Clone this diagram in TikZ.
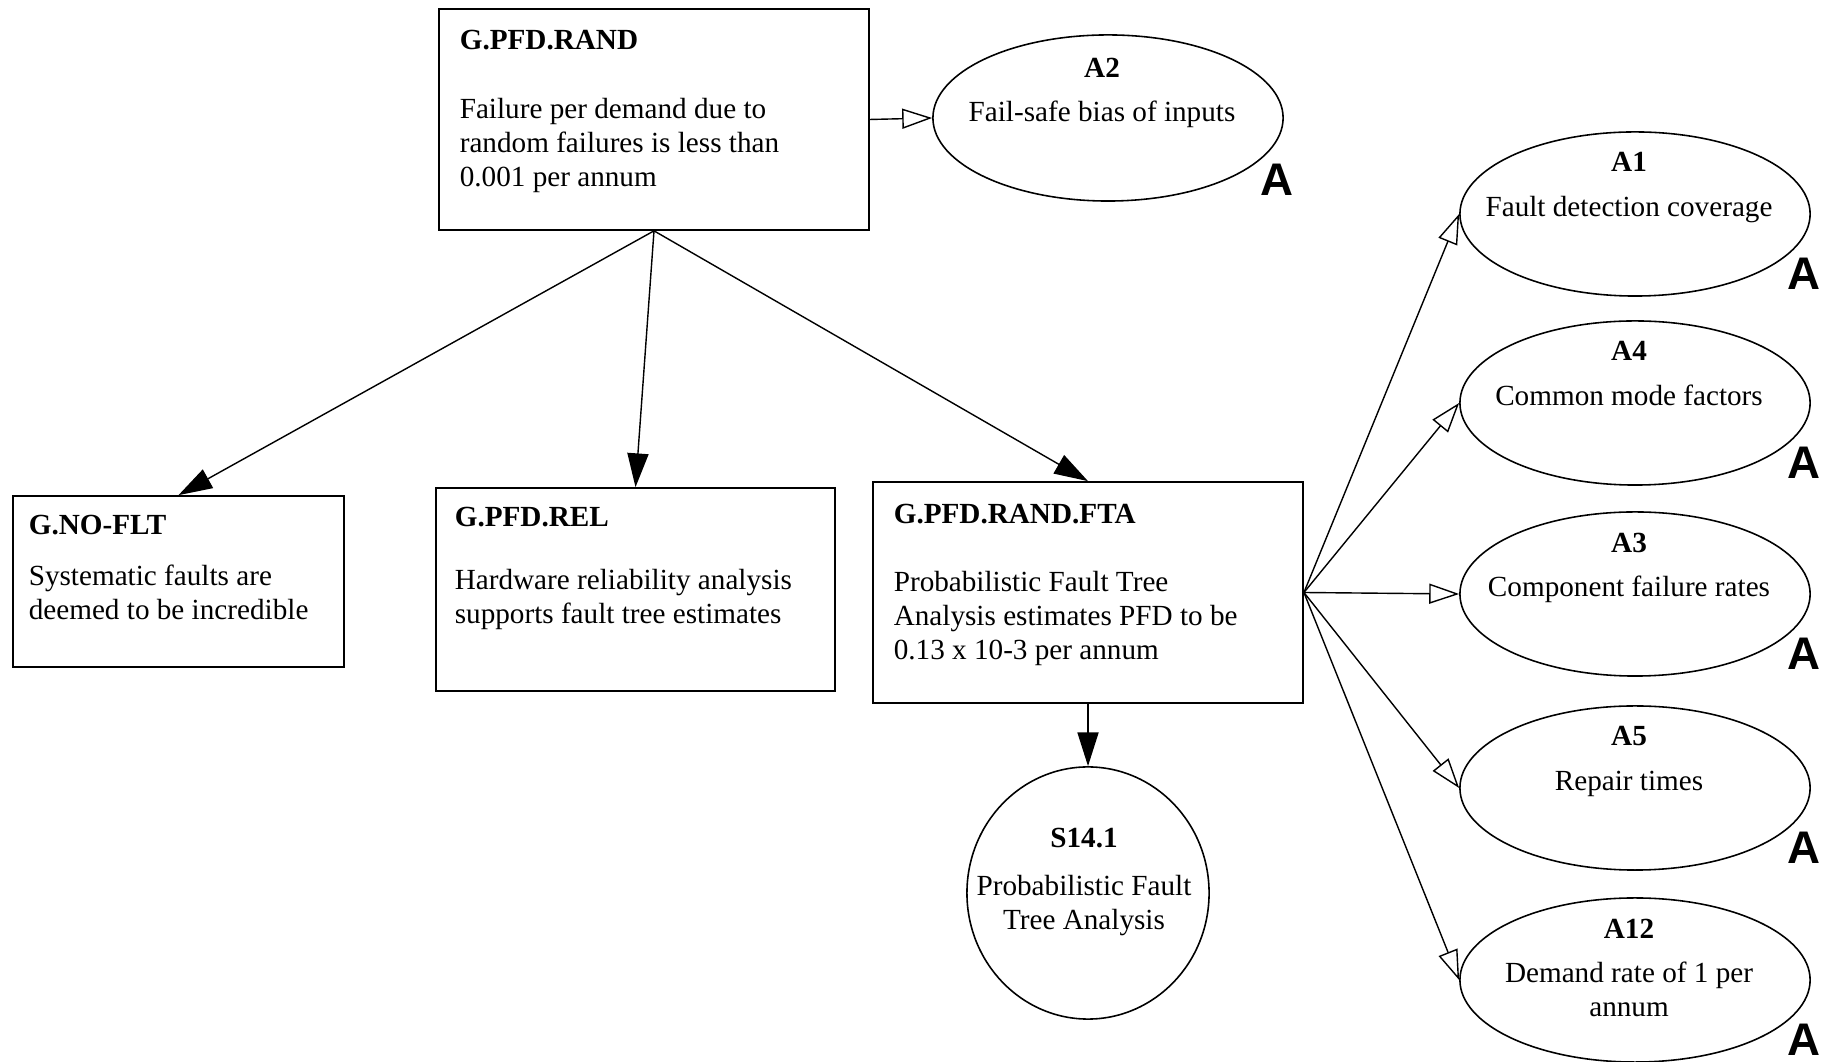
\documentclass[tikz,border=0pt]{standalone}
\usepackage{fontspec}
\setmainfont{Liberation Serif}
\newfontfamily\tagfont{Liberation Sans}
\usetikzlibrary{calc, positioning, shapes.geometric, arrows.meta}

\tikzset{
  goalbox/.style={draw, rectangle, line width=0.45pt, inner sep=0pt},
  goaltext/.style={anchor=north west, inner sep=0pt, align=left, font=\fontsize{8.3}{9.7}\selectfont},
  asmp/.style={draw, ellipse, line width=0.45pt, minimum width=3.50cm, minimum height=1.64cm, inner sep=0pt},
  asmptext/.style={anchor=north, inner sep=0pt, align=center, font=\fontsize{8.3}{9.7}\selectfont},
  atag/.style={inner sep=0pt, font=\tagfont\bfseries\fontsize{13}{13}\selectfont},
  solidarr/.style={-{Triangle[length=9.6pt, width=6pt]}, line width=0.4pt},
  openarr/.style={-{Triangle[open, fill=white, length=8.5pt, width=5.7pt]}, line width=0.4pt},
}

\begin{document}
\begin{tikzpicture}[x=0.01cm, y=0.01cm]
  \useasboundingbox (0,0) rectangle (1831,1061);

  % goals
  \node[goalbox, minimum width=4.30cm, minimum height=2.21cm] (rand) at (654,941.5) {};
  \node[goaltext] (randtxt) at ($(rand.north west)+(21,-21)$) {%
    \textbf{G.PFD.RAND}\\[10pt]
    Failure per demand due to\\
    random failures is less than\\
    0.001 per annum};

  \node[goalbox, minimum width=3.31cm, minimum height=1.71cm] (noflt) at (178.5,479.5) {};
  \node[goaltext] (noflttxt) at ($(noflt.north west)+(16,-19)$) {%
    \textbf{G.NO-FLT}\\[5pt]
    Systematic faults are\\
    deemed to be incredible};

  \node[goalbox, minimum width=3.99cm, minimum height=2.03cm] (rel) at (635.5,471.5) {};
  \node[goaltext] (reltxt) at ($(rel.north west)+(19,-19)$) {%
    \textbf{G.PFD.REL}\\[8.3pt]
    Hardware reliability analysis\\
    supports fault tree estimates};

  \node[goalbox, minimum width=4.30cm, minimum height=2.21cm] (fta) at (1088,468.5) {};
  \node[goaltext] (ftatxt) at ($(fta.north west)+(21,-22)$) {%
    \textbf{G.PFD.RAND.FTA}\\[9.7pt]
    Probabilistic Fault Tree\\
    Analysis estimates PFD to be\\
    0.13 x 10-3 per annum};

  % solution
  \node[draw, ellipse, line width=0.45pt, minimum width=2.42cm, minimum height=2.52cm, inner sep=0pt] (s141) at (1088,168) {};
  \node[asmptext] (s141txt) at ($(s141.center)+(-4,66)$) {%
    \textbf{S14.1}\\[4pt]
    Probabilistic Fault\\
    Tree Analysis};

  % assumptions
  \node[asmp, minimum height=1.66cm] (a2) at (1108,943) {};
  \node[asmptext] (a2txt) at ($(a2.center)+(-6,61)$) {\textbf{A2}\\[3pt]Fail-safe bias of inputs};
  \node[atag] (a2tag) at ($(a2.center)+(169,-62)$) {A};

  \foreach \nm/\yy/\ttl/\txt in {a1/847/A1/Fault detection coverage,
                                 a4/658/A4/Common mode factors,
                                 a3/467/A3/Component failure rates,
                                 a5/273/A5/Repair times,
                                 a12/81/A12/{Demand rate of 1 per\\annum}} {
    \node[asmp] (\nm) at (1635,\yy) {};
    \node[asmptext] (\nm txt) at ($(\nm.center)+(-6,62)$) {\textbf{\ttl}\\[3pt]\txt};
    \node[atag] (\nm tag) at ($(\nm.center)+(169,-60)$) {A};
  }

  % connectors
  \draw[openarr] (rand.east) -- (a2.west);
  \draw[solidarr] (rand.south) -- (noflt.north);
  \draw[solidarr] (rand.south) -- (rel.north);
  \draw[solidarr] (rand.south) -- (fta.north);
  \draw[solidarr] (fta.south) -- (s141.north);
  \foreach \nm in {a1,a4,a3,a5,a12}
    \draw[openarr] (fta.east) -- (\nm.west);
\end{tikzpicture}
\end{document}
